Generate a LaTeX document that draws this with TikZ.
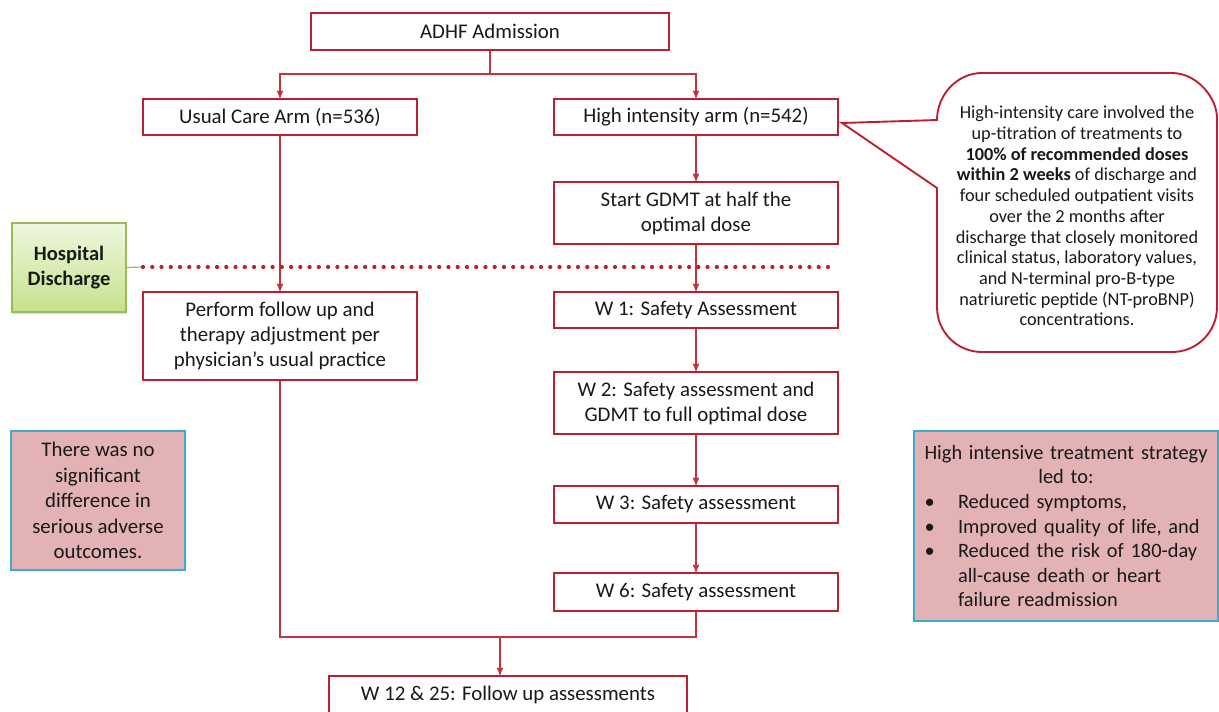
\documentclass[tikz,border=0pt]{standalone}
\usepackage{fontspec}
\setmainfont{Carlito}
\usepackage{tikz}
\usetikzlibrary{shapes,arrows,shadows}
\definecolor{armred}{RGB}{190,30,45}
\definecolor{linered}{RGB}{200,50,60}
\definecolor{pinkfill}{RGB}{226,178,180}
\definecolor{aquaedge}{RGB}{60,170,210}
\definecolor{greenedge}{RGB}{155,187,89}
\definecolor{greentop}{RGB}{238,247,222}
\definecolor{greenbot}{RGB}{196,226,140}
\definecolor{ink}{RGB}{25,25,25}
\newcommand{\pxu}{0.03cm}

\begin{document}
\begin{tikzpicture}[x=\pxu,y=-\pxu,>=stealth',
  box/.style 2 args={draw=armred,line width=2pt,fill=white,text=ink,inner sep=0pt,align=center,
    font=\fontsize{17.8}{21.3}\selectfont,minimum width=#1*\pxu,minimum height=#2*\pxu},
  pinkbox/.style 2 args={draw=aquaedge,line width=1.6pt,fill=pinkfill,text=ink,inner sep=0pt,
    minimum width=#1*\pxu,minimum height=#2*\pxu},
  link/.style={draw=linered,line width=1.2pt}]
\useasboundingbox[fill=white] (0,0) rectangle (1219,712);

\node[box={358}{37}] (adhf) at (490,31.5) {ADHF Admission};
\node[box={274}{36}] (usual) at (280,117) {Usual Care Arm (n=536)};
\node[box={284}{36}] (high) at (696,117) {High intensity arm (n=542)};
\node[box={284}{62}] (gdmt) at (696,213) {Start GDMT at half the\\optimal dose};
\node[box={274}{88}] (perform) at (280,336) {Perform follow up and\\therapy adjustment per\\physician’s usual practice};
\node[box={284}{36}] (w1) at (696,310) {W 1: Safety Assessment};
\node[box={284}{62}] (w2) at (696,403) {W 2: Safety assessment and\\GDMT to full optimal dose};
\node[box={284}{37}] (w3) at (696,504.5) {W 3: Safety assessment};
\node[box={284}{38}] (w6) at (696,592) {W 6: Safety assessment};
\node[box={358}{38}] (fu) at (508,695) {W 12 \& 25: Follow up assessments};

\node[draw=greenedge,line width=1pt,top color=greentop,bottom color=greenbot,text=ink,
  drop shadow={opacity=0.25,shadow xshift=1pt,shadow yshift=-1.5pt},align=center,
  font=\fontsize{17.5}{21.3}\selectfont\bfseries,minimum width=114*\pxu,minimum height=89*\pxu] (hosp) at (69,267.5) {Hospital\\Discharge};

\node[pinkbox={174}{139},align=center,font=\fontsize{17.8}{21.8}\selectfont] (nosig) at (98,500.5)
  {There was no\\significant\\difference in\\serious adverse\\outcomes.};
\node[pinkbox={304}{190},text width=296*\pxu,align=left,font=\fontsize{17.4}{21}\selectfont] (res) at (1066,526)
  {{\centering High intensive treatment strategy\\led to:\par}
   \makebox[1.2cm][l]{\hspace{0.2cm}\textbullet}Reduced symptoms,\\
   \makebox[1.2cm][l]{\hspace{0.2cm}\textbullet}Improved quality of life, and\\
   \makebox[1.2cm][l]{\hspace{0.2cm}\textbullet}Reduced the risk of 180-day\\
   \hspace*{1.2cm}all-cause death or heart\\
   \hspace*{1.2cm}failure readmission};

\coordinate (tip) at (842,123);
\draw[armred,line width=1.6pt,fill=white] (tip) -- (937,120) .. controls (937,95) and (957,73) .. (982,73)
  -- (1172,73) .. controls (1197,73) and (1217,98) .. (1217,118)
  -- (1217,307) .. controls (1217,332) and (1197,352) .. (1172,352)
  -- (982,352) .. controls (957,352) and (937,332) .. (937,307) -- (937,188) -- cycle;
\node[align=center,text=ink,font=\fontsize{15.6}{17.7}\selectfont] (note) at (1077,216)
  {High-intensity care involved the\\up-titration of treatments to\\\textbf{100\% of recommended doses}\\
   \textbf{within 2 weeks} of discharge and\\four scheduled outpatient visits\\over the 2 months after\\
   discharge that closely monitored\\clinical status, laboratory values,\\and N-terminal pro-B-type\\
   natriuretic peptide (NT-proBNP)\\concentrations.};

\coordinate (split) at (490,74);
\coordinate (merge) at (500,637);
\coordinate (dl) at (143,267);
\coordinate (dr) at (833,267);
\draw[link] (adhf.south) -- (split);
\draw[link,->] (split) -| (usual.north);
\draw[link,->] (split) -| (high.north);
\foreach \a/\b in {usual/perform,high/gdmt,gdmt/w1,w1/w2,w2/w3,w3/w6}
  \draw[link,->] (\a) -- (\b);
\draw[link] (perform.south) |- (merge);
\draw[link] (w6.south) |- (merge);
\draw[link,->] (merge) -- (merge |- fu.north);
\draw[greenedge,line width=1pt] (hosp.east) -- (dl);
\draw[armred,line width=3.6pt,line cap=round,dash pattern=on 0pt off 7.9pt] (dl) -- (dr);
\end{tikzpicture}
\end{document}
